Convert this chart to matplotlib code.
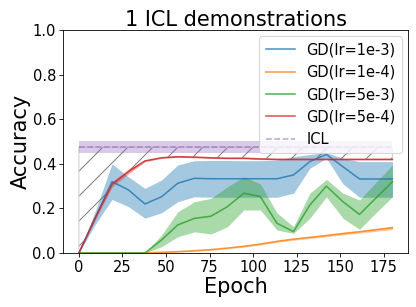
import matplotlib
matplotlib.use("Agg")
import matplotlib.pyplot as plt
import numpy as np

epochs = [0, 9.5, 19, 28.4, 37.9, 47.4, 56.8, 66.3, 75.8, 85.3, 94.7, 104.2,
          113.7, 123.2, 132.6, 142.1, 151.6, 161.1, 170.5, 180]

blue_mean = [0.0, 0.16, 0.32, 0.283, 0.22, 0.252, 0.313, 0.335, 0.333, 0.333, 0.333, 0.333,
             0.333, 0.35, 0.41, 0.442, 0.387, 0.332, 0.332, 0.332]
blue_lo = [0.0, 0.13, 0.24, 0.208, 0.156, 0.18, 0.23, 0.252, 0.25, 0.25, 0.25, 0.25,
           0.25, 0.268, 0.38, 0.425, 0.31, 0.25, 0.25, 0.25]
blue_hi = [0.0, 0.19, 0.40, 0.342, 0.29, 0.327, 0.395, 0.414, 0.415, 0.415, 0.414, 0.414,
           0.417, 0.432, 0.442, 0.45, 0.425, 0.41, 0.41, 0.41]

orange_mean = [0.0, 0.0, 0.0, 0.0, 0.0, 0.003, 0.006, 0.01, 0.015, 0.022, 0.03, 0.04,
               0.052, 0.062, 0.07, 0.078, 0.087, 0.095, 0.104, 0.113]
orange_err = [0.0, 0.0, 0.0, 0.0, 0.0, 0.002, 0.002, 0.003, 0.003, 0.003, 0.004, 0.004,
              0.004, 0.005, 0.005, 0.005, 0.006, 0.006, 0.007, 0.008]

green_mean = [0.0, 0.0, 0.0, 0.0, 0.0, 0.058, 0.126, 0.155, 0.165, 0.208, 0.268, 0.253,
              0.133, 0.096, 0.215, 0.30, 0.23, 0.173, 0.246, 0.32]
green_lo = [0.0, 0.0, 0.0, 0.0, 0.0, 0.028, 0.073, 0.095, 0.085, 0.118, 0.193, 0.193,
            0.103, 0.088, 0.156, 0.252, 0.156, 0.106, 0.18, 0.252]
green_hi = [0.0, 0.0, 0.0, 0.0, 0.0, 0.08, 0.185, 0.23, 0.245, 0.297, 0.342, 0.31,
            0.18, 0.118, 0.268, 0.33, 0.268, 0.238, 0.316, 0.395]

red_mean = [0.0, 0.16, 0.308, 0.365, 0.413, 0.427, 0.432, 0.43, 0.427, 0.425, 0.425, 0.422,
            0.42, 0.42, 0.42, 0.42, 0.42, 0.42, 0.42, 0.42]
red_err = [0.0, 0.01, 0.012, 0.01, 0.004, 0.003, 0.003, 0.003, 0.003, 0.003, 0.003, 0.003,
           0.003, 0.003, 0.003, 0.003, 0.003, 0.003, 0.003, 0.003]

icl_mean = 0.475
icl_lo = 0.45
icl_hi = 0.502

labels = ["GD(lr=1e-3)", "GD(lr=1e-4)", "GD(lr=5e-3)", "GD(lr=5e-4)", "ICL"]

x = np.array(epochs)
fig = plt.figure(figsize=(416 / 75, 307 / 75), dpi=75)
ax = fig.add_axes([0.152, 0.176, 0.829, 0.726])

red = np.array(red_mean)
icl_line = np.full_like(x, icl_mean)
ax.fill_between(x, red, icl_line, facecolor="none", edgecolor="gray", hatch="/", linewidth=0)
ax.fill_between(x, red, icl_line, facecolor="none", edgecolor="#d0d0d0", linewidth=1)

ax.plot(x, blue_mean, color="tab:blue", alpha=0.8, lw=1.5, label=labels[0])
ax.fill_between(x, blue_lo, blue_hi, color="tab:blue", alpha=0.4, lw=0)
om = np.array(orange_mean); oe = np.array(orange_err)
ax.plot(x, om, color="tab:orange", alpha=0.8, lw=1.5, label=labels[1])
ax.fill_between(x, om - oe, om + oe, color="tab:orange", alpha=0.4, lw=0)
ax.plot(x, green_mean, color="tab:green", alpha=0.8, lw=1.5, label=labels[2])
ax.fill_between(x, green_lo, green_hi, color="tab:green", alpha=0.4, lw=0)
re = np.array(red_err)
ax.plot(x, red, color="tab:red", alpha=0.8, lw=1.5, label=labels[3])
ax.fill_between(x, red - re, red + re, color="tab:red", alpha=0.4, lw=0)

ax.plot(x, icl_line, color="tab:purple", alpha=0.6, lw=1.5, ls="--", label=labels[4])
ax.fill_between(x, np.full_like(x, icl_lo), np.full_like(x, icl_hi), color="tab:purple", alpha=0.35, lw=0)

ax.set_ylim(0, 1.0)
ax.set_xticks([0, 25, 50, 75, 100, 125, 150, 175])
ax.set_yticks([0.0, 0.2, 0.4, 0.6, 0.8, 1.0])
ax.tick_params(labelsize=14)
ax.set_xlabel("Epoch", fontsize=20, labelpad=2)
ax.set_ylabel("Accuracy", fontsize=20, labelpad=2)
ax.set_title("1 ICL demonstrations", fontsize=20, pad=4)
ax.legend(loc="upper right", fontsize=14, borderaxespad=0.4, handlelength=2.0,
          labelspacing=0.5, borderpad=0.45)

fig.savefig("out.png", dpi=75)
